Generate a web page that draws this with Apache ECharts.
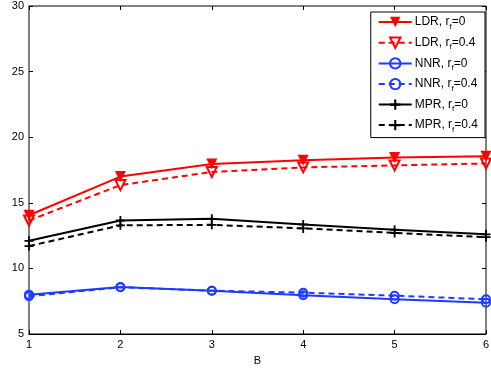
<!DOCTYPE html>
<html style="height: 100%">
<head>
<meta charset="utf-8">
<title>A bar vs B</title>
<script src="https://cdn.jsdelivr.net/npm/echarts@6/dist/echarts.min.js"></script>
</head>
<body style="height: 100%; margin: 0; background: #fff">
<div id="target" style="width: 491px; height: 368px"></div>
<script>
// values
const bValues = [1, 2, 3, 4, 5, 6];
const ldr0  = [14.05, 17.0, 17.95, 18.25, 18.45, 18.55];
const ldr04 = [13.65, 16.35, 17.35, 17.7, 17.85, 18.0];
const nnr0  = [8.0, 8.58, 8.3, 7.95, 7.65, 7.38];
const nnr04 = [7.88, 8.56, 8.3, 8.15, 7.92, 7.65];
const mpr0  = [12.1, 13.65, 13.78, 13.35, 12.95, 12.6];
const mpr04 = [11.7, 13.28, 13.32, 13.05, 12.7, 12.38];
const yTicks = [5, 10, 15, 20, 25, 30];

const RED = "#ff0000";
const BLUE = "#1f3bff";
const BLACK = "#000000";
const FONT = "Liberation Sans";

const PLUS = "path://M4,0H6V4H10V6H6V10H4V6H0V4H4Z";

let chart = echarts.init(document.getElementById('target'), null, {renderer: 'canvas'});

function pairs(ys)
{
    return ys.map((y, i) => [bValues[i], y]);
}

function makeSeries(name, ys, color, dashed, symbol, size, hollow, rotate)
{
    return {
        name: name,
        type: "line",
        data: pairs(ys),
        symbol: symbol,
        symbolSize: size,
        symbolRotate: rotate || 0,
        showAllSymbol: true,
        lineStyle: {
            color: color,
            width: 2,
            type: dashed ? [6, 4] : "solid",
        },
        itemStyle: {
            color: hollow ? "transparent" : color,
            borderColor: color,
            borderWidth: hollow ? 2 : 0,
        },
        z: 3,
    };
}

let legendNames = ["LDR0", "LDR04", "NNR0", "NNR04", "MPR0", "MPR04"];
let legendLabel = {
    LDR0: "{a|LDR, r}{s|f}{a|=0}",
    LDR04: "{a|LDR, r}{s|f}{a|=0.4}",
    NNR0: "{a|NNR, r}{s|f}{a|=0}",
    NNR04: "{a|NNR, r}{s|f}{a|=0.4}",
    MPR0: "{a|MPR, r}{s|f}{a|=0}",
    MPR04: "{a|MPR, r}{s|f}{a|=0.4}",
};

let option = {
    animation: false,
    backgroundColor: "#fff",
    textStyle: { fontFamily: FONT },
    grid: {
        left: 29,
        right: 5,
        top: 6,
        bottom: 34,
        containLabel: false,
        outerBoundsMode: "none",
        show: true,
        borderColor: BLACK,
        borderWidth: 1,
    },
    legend: {
        data: legendNames,
        orient: "vertical",
        right: 6,
        top: 12,
        padding: [4, 7, 4, 7],
        itemGap: 6,
        itemWidth: 33,
        itemHeight: 13,
        borderColor: BLACK,
        borderWidth: 1,
        backgroundColor: "#fff",
        formatter: name => legendLabel[name],
        textStyle: {
            padding: [0, 0, 0, -2],
            rich: {
                a: { fontFamily: FONT, fontSize: 12, color: BLACK },
                s: { fontFamily: FONT, fontSize: 8, color: BLACK, padding: [9, 0, 0, 0] },
            },
        },
    },
    xAxis: [
        {
            type: "value",
            min: 1,
            max: 6,
            interval: 1,
            name: "B",
            nameLocation: "middle",
            nameGap: 21,
            nameTextStyle: { fontFamily: FONT, fontSize: 11, color: BLACK },
            axisLine: { lineStyle: { color: BLACK, width: 1 } },
            axisTick: { inside: true, length: 4, lineStyle: { color: BLACK } },
            axisLabel: { fontFamily: FONT, fontSize: 11, color: BLACK, margin: 5 },
            splitLine: { show: false },
        },
        {
            type: "value",
            position: "top",
            min: 1,
            max: 6,
            interval: 1,
            axisLine: { show: false },
            axisTick: { inside: true, length: 4, lineStyle: { color: BLACK } },
            axisLabel: { show: false },
            splitLine: { show: false },
        },
    ],
    yAxis: [
        {
            type: "value",
            min: yTicks[0],
            max: yTicks[yTicks.length - 1],
            interval: 5,
            name: "Ā",
            nameLocation: "middle",
            nameRotate: 90,
            nameGap: 19,
            nameTextStyle: { fontFamily: "DejaVu Serif", fontStyle: "italic", fontSize: 12, color: "#333" },
            axisLine: { lineStyle: { color: "#808080", width: 2 } },
            axisTick: { inside: true, length: 4, lineStyle: { color: BLACK } },
            axisLabel: { fontFamily: FONT, fontSize: 11, color: BLACK, margin: 5 },
            splitLine: { show: false },
        },
        {
            type: "value",
            position: "right",
            min: yTicks[0],
            max: yTicks[yTicks.length - 1],
            interval: 5,
            axisLine: { show: false },
            axisTick: { inside: true, length: 4, lineStyle: { color: BLACK } },
            axisLabel: { show: false },
            splitLine: { show: false },
        },
    ],
    series: [
        makeSeries("LDR0", ldr0, RED, false, "triangle", 11, false, 180),
        makeSeries("LDR04", ldr04, RED, true, "triangle", 10, true, 180),
        makeSeries("NNR0", nnr0, BLUE, false, "circle", 8, true),
        makeSeries("NNR04", nnr04, BLUE, true, "circle", 8, true),
        makeSeries("MPR0", mpr0, BLACK, false, PLUS, 9, false),
        makeSeries("MPR04", mpr04, BLACK, true, PLUS, 9, false),
    ],
};

chart.setOption(option);
</script>
</body>
</html>
